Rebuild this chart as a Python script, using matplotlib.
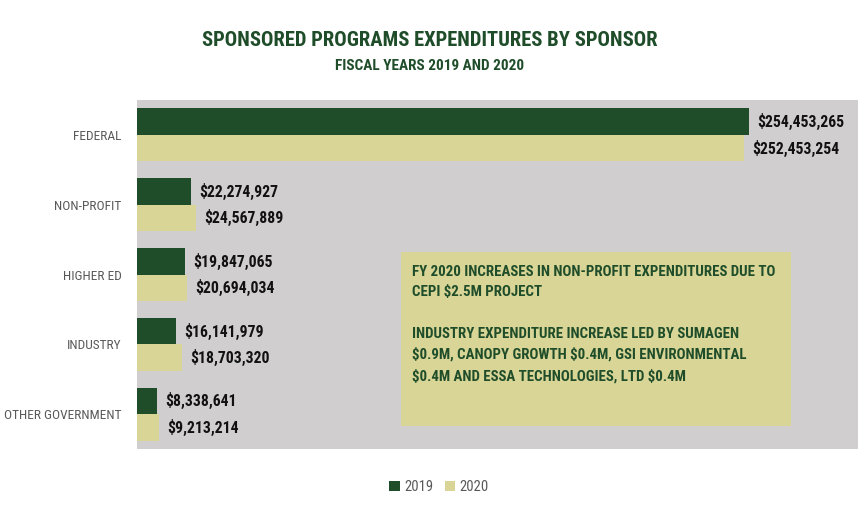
import matplotlib
matplotlib.use("Agg")
import matplotlib.pyplot as plt
import matplotlib.patches as mpatches
from matplotlib import font_manager
import numpy as np

# -----------------------------
# Data
# -----------------------------
categories = ["FEDERAL", "NON-PROFIT", "HIGHER ED", "INDUSTRY", "OTHER GOVERNMENT"]
fy2019 = [254453265, 22274927, 19847065, 16141979, 8338641]
fy2020 = [252453254, 24567889, 20694034, 18703320, 9213214]
series_names = ["2019", "2020"]

note_text = ("FY 2020 INCREASES IN NON-PROFIT EXPENDITURES DUE TO\n"
             "CEPI $2.5M PROJECT\n"
             "\n"
             "INDUSTRY EXPENDITURE INCREASE LED BY SUMAGEN\n"
             "$0.9M, CANOPY GROWTH $0.4M, GSI ENVIRONMENTAL\n"
             "$0.4M AND ESSA TECHNOLOGIES, LTD $0.4M")

# -----------------------------
# Style
# -----------------------------
green = "#1f4d2a"
khaki = "#d8d596"
panel = "#d0cecf"

installed = {f.name for f in font_manager.fontManager.ttflist}
wanted = ["Roboto Condensed", "DejaVu Sans Condensed", "Liberation Sans Narrow",
          "Roboto"]
font = [f for f in wanted if f in installed] + ["DejaVu Sans"]
plt.rcParams["font.family"] = font

fig = plt.figure(figsize=(8.59, 5.12), dpi=100)
ax = fig.add_axes([137 / 859, 1 - 449 / 512, 721 / 859, 349 / 512])
ax.set_facecolor(panel)

y = np.arange(len(categories))
h = 0.38

ax.barh(y - h / 2, fy2019, height=h, color=green, label=series_names[0])
ax.barh(y + h / 2, fy2020, height=h, color=khaki, label=series_names[1])

for yi, v in zip(y, fy2019):
    ax.text(v + 3.5e6, yi - h / 2, f"${v:,.0f}", va="center", ha="left",
            fontsize=11.3, fontweight="bold", color="#111111", parse_math=False)
for yi, v in zip(y, fy2020):
    ax.text(v + 3.5e6, yi + h / 2, f"${v:,.0f}", va="center", ha="left",
            fontsize=11.3, fontweight="bold", color="#111111", parse_math=False)

ax.set_xlim(0, 300e6)
ax.set_ylim(len(categories) - 0.5, -0.5)
ax.set_yticks(y)
ax.set_yticklabels(categories, fontsize=9.6, color="#595959")
ax.set_xticks([])
ax.tick_params(axis="y", length=0, pad=11)
for s in ax.spines.values():
    s.set_visible(False)

# note box
ax.add_patch(mpatches.Rectangle((0.366, 0.066), 0.541, 0.498,
                                transform=ax.transAxes, facecolor=khaki,
                                edgecolor="none", zorder=3))
ax.text(0.382, 0.528, note_text, transform=ax.transAxes, ha="left", va="top",
        fontsize=10.7, fontweight="bold", color=green, linespacing=1.6,
        zorder=4, parse_math=False)

# titles
fig.text(0.5, 1 - 40 / 512, "SPONSORED PROGRAMS EXPENDITURES BY SPONSOR",
         ha="center", va="center", fontsize=14.9, fontweight="bold", color=green)
fig.text(0.5, 1 - 66 / 512, "FISCAL YEARS 2019 AND 2020",
         ha="center", va="center", fontsize=11, fontweight="bold", color=green)

# legend
fig.legend(loc="center", bbox_to_anchor=(439 / 859, 1 - 487 / 512), ncol=2,
           frameon=False, fontsize=10.5, handlelength=0.7, handleheight=0.7,
           handletextpad=0.3, columnspacing=0.8, labelcolor="#595959")

fig.savefig("out.png", dpi=100)
